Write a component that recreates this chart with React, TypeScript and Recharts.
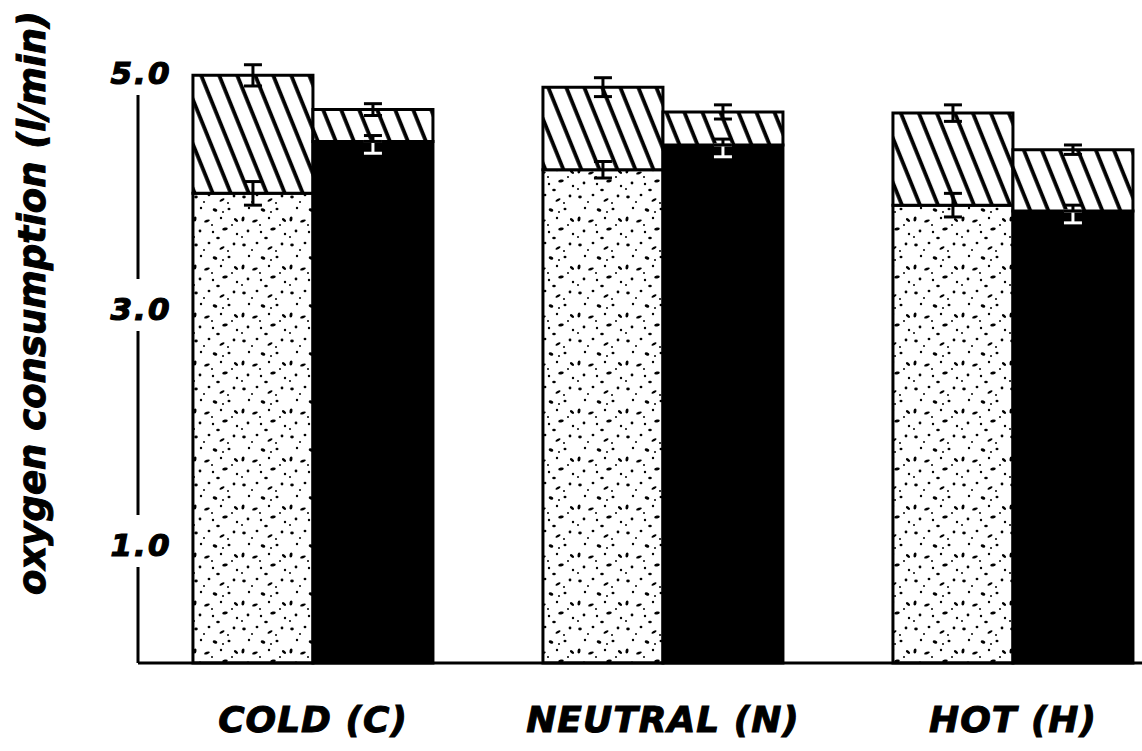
import { BarChart, Bar, XAxis, YAxis, ErrorBar } from 'recharts'

const categories = ['COLD (C)', 'NEUTRAL (N)', 'HOT (H)']
// left bar of each pair: stippled base + hatched top
const stippleBase = [3.98, 4.18, 3.88]
const stippleHatch = [1.0, 0.7, 0.78]
// right bar of each pair: black base + hatched top
const solidBase = [4.42, 4.39, 3.83]
const solidHatch = [0.27, 0.28, 0.52]
// error bars (l/min)
const stippleBaseErr = [0.1, 0.07, 0.1]
const stippleTopErr = [0.09, 0.08, 0.07]
const solidBaseErrDown = [0.1, 0.1, 0.1]
const solidBaseErrUp = [0.05, 0.05, 0.05]
const solidTopErr = [0.05, 0.06, 0.04]
const yTicks = [1, 3, 5]
const yLabel = 'oxygen consumption (l/min)'

const data = categories.map((name, i) => ({
  name,
  stippleBase: stippleBase[i],
  stippleHatch: stippleHatch[i],
  solidBase: solidBase[i],
  solidHatch: solidHatch[i],
  stippleBaseErr: stippleBaseErr[i],
  stippleTopErr: stippleTopErr[i],
  solidBaseErrDown: [solidBaseErrDown[i], 0],
  solidBaseErrUp: [0, solidBaseErrUp[i]],
  solidTopErr: solidTopErr[i],
}))

const font = '"DejaVu Sans", sans-serif'

// dots for the stipple texture tile
const dots = [
  [4, 5, 1.8, 1.4, 0], [17, 3, 1.4, 1.2, 0], [30, 8, 2.8, 1.2, -30], [42, 4, 1.4, 1.4, 0],
  [9, 16, 1.2, 1.2, 0], [23, 18, 2.4, 1.5, 20], [37, 17, 1.5, 1.2, 0], [3, 27, 1.5, 2.5, 10],
  [15, 29, 3.0, 1.2, -20], [29, 26, 1.2, 1.2, 0], [44, 28, 2.5, 1.3, 40], [8, 39, 1.4, 1.4, 0],
  [21, 40, 1.2, 1.2, 0], [33, 37, 2.8, 1.4, -10], [45, 42, 1.2, 1.2, 0], [26, 46, 1.8, 1.2, 0],
  [12, 10, 1.0, 1.0, 0], [36, 11, 1.0, 1.0, 0], [20, 33, 1.0, 1.0, 0], [40, 33, 1.0, 1.0, 0],
  [2, 45, 1.0, 1.0, 0], [31, 20, 1.0, 1.0, 0],
]

function YTick({ x, y, payload }: any) {
  const top = payload.value === 5
  return (
    <g>
      <rect x={x - 36} y={top ? y - 80 : y - 30} width={72} height={top ? 102 : 52} fill="#fff" />
      <text x={x + 3} y={y + 11} textAnchor="middle" fontFamily={font} fontSize={31} fontWeight="bold"
        fontStyle="italic" letterSpacing={2} fill="#000" stroke="#000" strokeWidth={1.2}>
        {payload.value.toFixed(1)}
      </text>
    </g>
  )
}

function XTick({ x, y, payload }: any) {
  return (
    <text x={x} y={y + 69} textAnchor="middle" fontFamily={font} fontSize={36} fontWeight="bold"
      fontStyle="italic" letterSpacing={1} fill="#000" stroke="#000" strokeWidth={1}>
      {payload.value}
    </text>
  )
}

function YLabel() {
  return (
    <text x={45} y={303} transform="rotate(-90 45 303)" textAnchor="middle" fontFamily={font} fontSize={37}
      fontWeight="bold" fontStyle="italic" fill="#000" stroke="#000" strokeWidth={1}>
      {yLabel}
    </text>
  )
}

export default function App() {
  return (
    <div style={{ position: 'absolute', left: 0, top: 0, width: 1142, height: 751, overflow: 'hidden', background: '#fff' }}>
      <BarChart width={1188} height={751} data={data} margin={{ top: 14, right: 0, bottom: 0, left: 0 }}
        barCategoryGap="15.7%" barGap={0}>
        <defs>
          <pattern id="hatch" width="16.7" height="16.7" patternUnits="userSpaceOnUse" patternTransform="rotate(-22)">
            <rect width="16.7" height="16.7" fill="#fff" />
            <line x1="8" y1="-1" x2="8" y2="18" stroke="#000" strokeWidth="3.8" />
          </pattern>
          <pattern id="stipple" width="48" height="48" patternUnits="userSpaceOnUse">
            <rect width="48" height="48" fill="#fff" />
            {dots.map(([cx, cy, rx, ry, r], i) => (
              <ellipse key={i} cx={cx} cy={cy} rx={rx} ry={ry} transform={`rotate(${r} ${cx} ${cy})`} fill="#000" />
            ))}
          </pattern>
        </defs>
        <XAxis dataKey="name" height={88} tickLine={false} tickSize={0} tickMargin={0} tick={<XTick />}
          axisLine={{ stroke: '#000', strokeWidth: 3 }} />
        <YAxis width={138} domain={[0, 5.5]} ticks={yTicks} tickLine={false} tickSize={0} tickMargin={0}
          tick={<YTick />} axisLine={{ stroke: '#000', strokeWidth: 3 }} label={{ content: () => <YLabel /> }} />
        <Bar dataKey="stippleBase" stackId="a" fill="url(#stipple)" stroke="#000" strokeWidth={3} isAnimationActive={false}>
          <ErrorBar dataKey="stippleBaseErr" direction="y" width={9} strokeWidth={3} stroke="#000" isAnimationActive={false} />
        </Bar>
        <Bar dataKey="stippleHatch" stackId="a" fill="url(#hatch)" stroke="#000" strokeWidth={3} isAnimationActive={false}>
          <ErrorBar dataKey="stippleTopErr" direction="y" width={9} strokeWidth={3} stroke="#000" isAnimationActive={false} />
        </Bar>
        <Bar dataKey="solidBase" stackId="b" fill="#000" stroke="#000" strokeWidth={3} isAnimationActive={false}>
          <ErrorBar dataKey="solidBaseErrDown" direction="y" width={9} strokeWidth={3} stroke="#fff" isAnimationActive={false} />
          <ErrorBar dataKey="solidBaseErrUp" direction="y" width={9} strokeWidth={3} stroke="#000" isAnimationActive={false} />
        </Bar>
        <Bar dataKey="solidHatch" stackId="b" fill="url(#hatch)" stroke="#000" strokeWidth={3} isAnimationActive={false}>
          <ErrorBar dataKey="solidTopErr" direction="y" width={9} strokeWidth={3} stroke="#000" isAnimationActive={false} />
        </Bar>
      </BarChart>
    </div>
  )
}
